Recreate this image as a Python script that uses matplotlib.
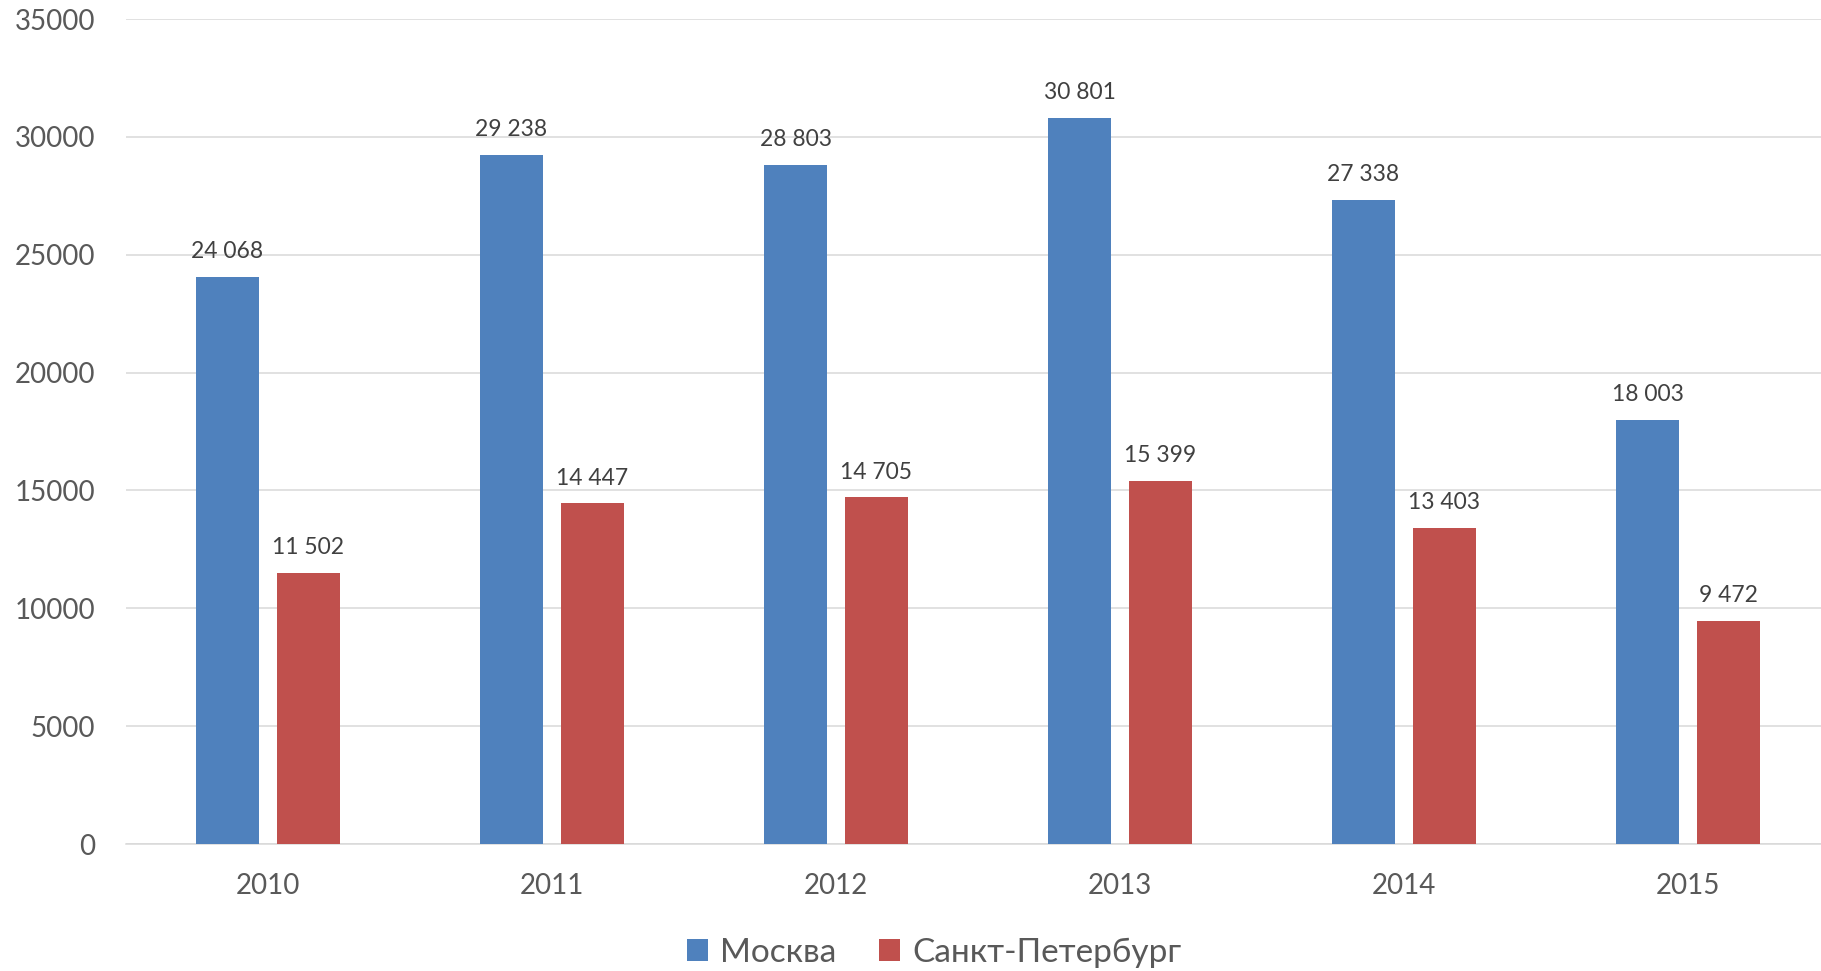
import matplotlib.pyplot as plt
import numpy as np

# data
years = ['2010', '2011', '2012', '2013', '2014', '2015']
moscow = [24068, 29238, 28803, 30801, 27338, 18003]
spb = [11502, 14447, 14705, 15399, 13403, 9472]
series_names = ['Москва', 'Санкт-Петербург']

plt.rcParams['font.family'] = ['Lato', 'DejaVu Sans']

fig = plt.figure(figsize=(18.21, 9.71), dpi=100)
ax = fig.add_axes([126 / 1821, (971 - 844) / 971, (1830 - 126) / 1821, (844 - 19) / 971])

x = np.arange(len(years))
w = 0.222
off = 0.1425
b1 = ax.bar(x - off, moscow, w, color='#4F81BD', label=series_names[0], zorder=3)
b2 = ax.bar(x + off, spb, w, color='#C0504D', label=series_names[1], zorder=3)

# data labels with space as thousands separator
for bars in (b1, b2):
    for r in bars:
        v = int(r.get_height())
        ax.annotate(f'{v:,}'.replace(',', ' '),
                    (r.get_x() + r.get_width() / 2, v),
                    xytext=(0, 13.5), textcoords='offset points',
                    ha='center', va='baseline', fontsize=16.5, color='#404040')

ax.set_xlim(-0.5, len(years) - 0.5)
ax.set_ylim(0, 35000)
ax.set_yticks(range(0, 35001, 5000))
ax.set_xticks(x)
ax.set_xticklabels(years)
ax.tick_params(axis='both', length=0, labelsize=20, labelcolor='#595959')
ax.tick_params(axis='y', pad=22)
ax.tick_params(axis='x', pad=21)

ax.grid(axis='y', color='#D9D9D9', linewidth=1.1, zorder=0)
for s in ['top', 'right', 'left']:
    ax.spines[s].set_visible(False)
ax.spines['bottom'].set_color('#D9D9D9')
ax.spines['bottom'].set_linewidth(1.1)

leg = fig.legend(loc='center', bbox_to_anchor=(0.513, 0.019), ncol=2, frameon=False,
                 fontsize=24, handlelength=0.62, handleheight=0.62,
                 handletextpad=0.36, columnspacing=1.3, labelcolor='#595959')

plt.savefig('out.png', dpi=100)
